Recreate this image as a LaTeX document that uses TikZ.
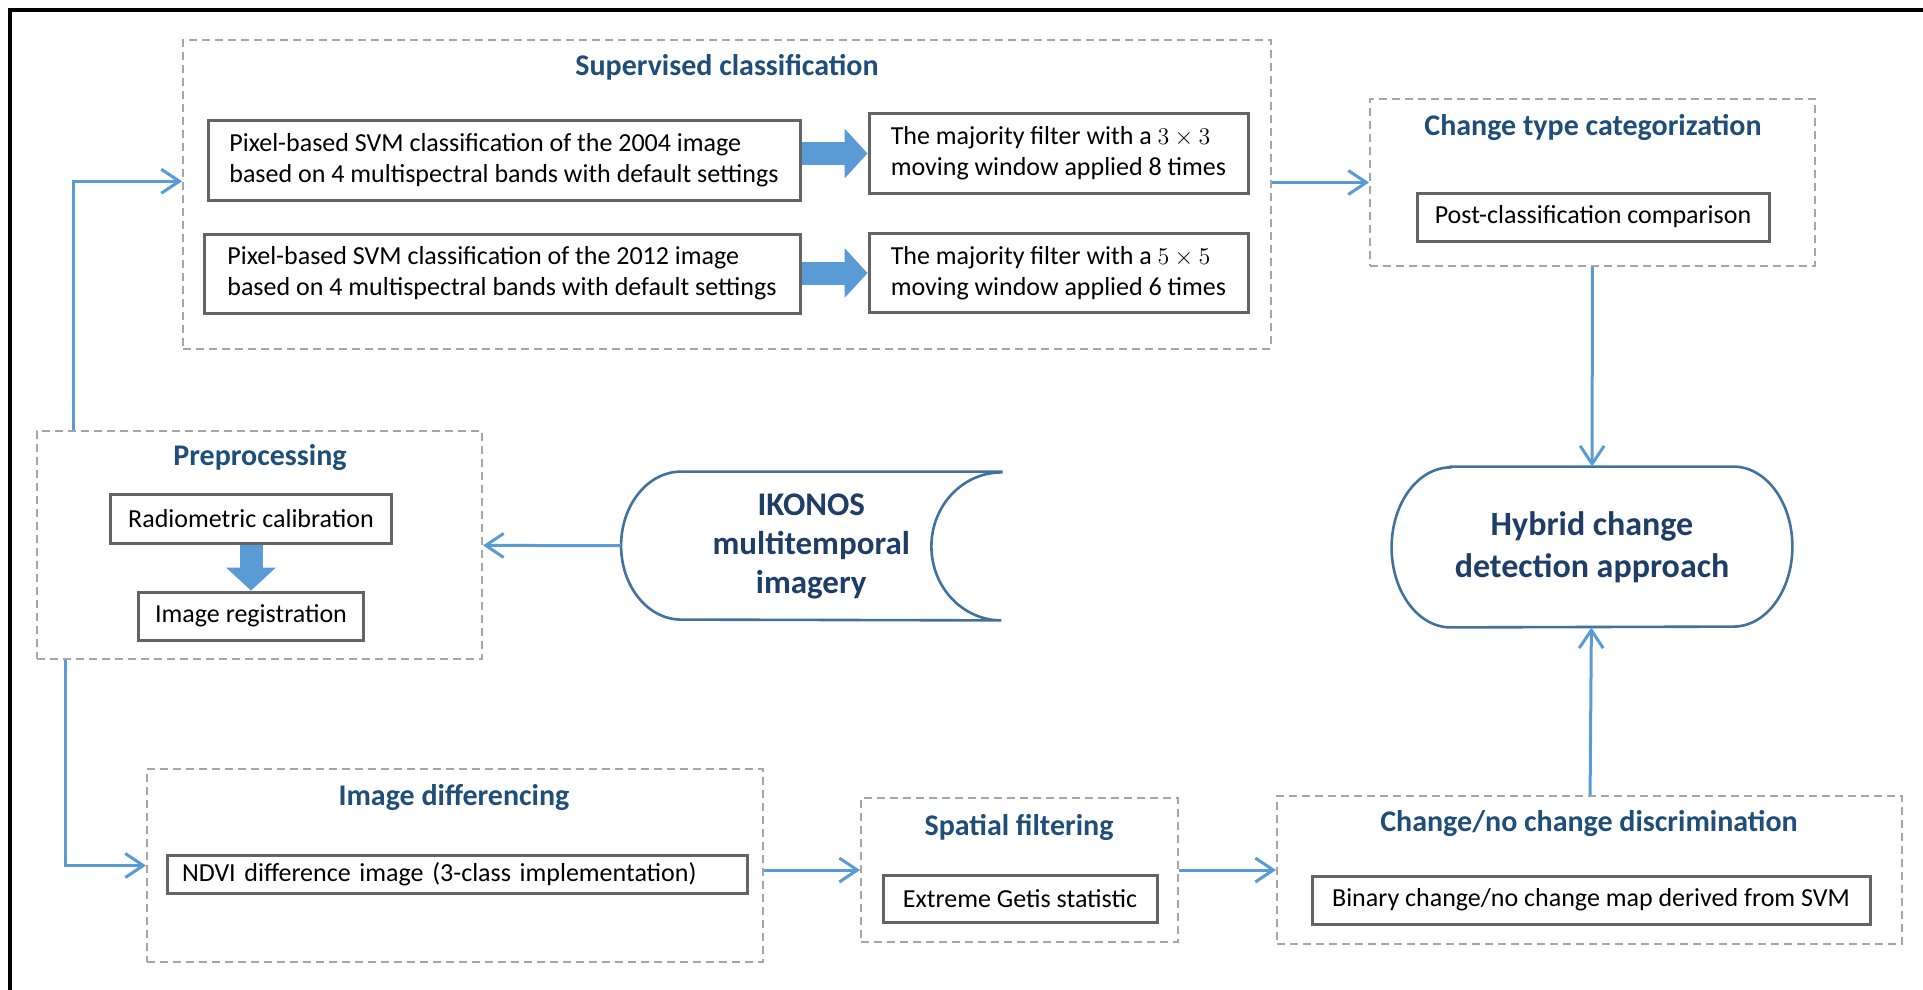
\documentclass[tikz,border=0pt]{standalone}
\usepackage{fontspec}
\setmainfont{Carlito}
\usetikzlibrary{arrows.meta}
\definecolor{titleblue}{RGB}{31,78,121}
\definecolor{hybblue}{RGB}{30,62,104}
\definecolor{flowblue}{RGB}{91,155,213}
\definecolor{edgeblue}{RGB}{65,113,156}
\definecolor{dashgray}{RGB}{166,166,166}
\definecolor{boxgray}{RGB}{100,100,100}
\begin{document}
\begin{tikzpicture}[x=0.5pt, y=-0.5pt,
  group/.style={draw=dashgray, line width=1pt, dash pattern=on 4pt off 2.5pt, inner sep=0pt},
  heading/.style={text=titleblue, font=\fontsize{15}{18}\selectfont\bfseries},
  stepbox/.style={draw=boxgray, line width=1.5pt, fill=white, inner sep=0pt, font=\fontsize{13}{15.5}\selectfont},
  flow/.style={draw=flowblue, line width=1.5pt, -{Straight Barb[length=9pt,width=12pt]}},
  fat/.style={draw=flowblue, line width=11.5pt, -{Triangle[length=11.5pt,width=25pt,line width=0pt]}},
  terminal/.style={draw=edgeblue, line width=1.3pt},
  bigtext/.style={text=hybblue, font=\fontsize{17}{21}\selectfont\bfseries, align=center}]
  \useasboundingbox (0,0) rectangle (1923,990);
  \draw[line width=2pt] (10,990) -- (10,10) -- (1923,10);

  \node[group, minimum width=543.75pt, minimum height=154.25pt] (sup) at (726.75,194.25) {};
  \node[heading] (suphead) at (727,67) {Supervised classification};
  \node[stepbox, align=left, minimum width=296pt, minimum height=39.5pt] (svm04) at (504,160.5) {Pixel-based SVM classification of the 2004 image\\based on 4 multispectral bands with default settings};
  \node[stepbox, align=left, minimum width=298pt, minimum height=39.5pt] (svm12) at (502,273.5) {Pixel-based SVM classification of the 2012 image\\based on 4 multispectral bands with default settings};
  \node[stepbox, align=left, minimum width=189.5pt, minimum height=39.5pt] (maj3) at (1058.5,153.5) {The majority filter with a $3\times3$\\moving window applied 8 times};
  \node[stepbox, align=left, minimum width=189.5pt, minimum height=39.5pt] (maj5) at (1058.5,273) {The majority filter with a $5\times5$\\moving window applied 6 times};

  \node[group, minimum width=222.5pt, minimum height=83.5pt] (chg) at (1592.5,182.5) {};
  \node[heading] (chghead) at (1593,127) {Change type categorization};
  \node[stepbox, minimum width=176pt, minimum height=24pt] (post) at (1593,217) {Post-classification comparison};

  \node[bigtext, minimum width=200pt, minimum height=80pt] (hyb) at (1592,547) {Hybrid change\\detection approach};
  \draw[terminal] ([xshift=29.5pt]hyb.north west) -- ([xshift=-29.5pt]hyb.north east)
    arc[start angle=90, end angle=-90, x radius=29.5pt, y radius=40pt]
    -- ([xshift=29.5pt]hyb.south west)
    arc[start angle=270, end angle=90, x radius=29.5pt, y radius=40pt] -- cycle;

  \node[group, minimum width=222.5pt, minimum height=114pt] (prep) at (259.5,545) {};
  \node[heading] (prephead) at (260,458) {Preprocessing};
  \node[stepbox, minimum width=140.75pt, minimum height=24.5pt] (radio) at (251,518.5) {Radiometric calibration};
  \node[stepbox, minimum width=112.5pt, minimum height=24pt] (reg) at (251,616) {Image registration};

  \node[bigtext, font=\fontsize{16.5}{19.5}\selectfont\bfseries, minimum width=189.75pt, minimum height=74pt] (ikon) at (811.25,546) {IKONOS\\multitemporal\\imagery};
  \draw[terminal] (ikon.north east) -- ([xshift=30pt]ikon.north west)
    arc[start angle=90, end angle=270, x radius=30pt, y radius=37pt]
    -- (ikon.south east)
    arc[start angle=270, end angle=90, x radius=35pt, y radius=37pt] -- cycle;

  \node[group, minimum width=308pt, minimum height=96.5pt] (diff) at (455,865.5) {};
  \node[heading] (diffhead) at (454,797) {Image differencing};
  \node[stepbox, text width=275pt, align=left, inner xsep=7.5pt, minimum height=19pt] (ndvi) at (457,874) {NDVI difference image (3-class implementation)};

  \node[group, minimum width=158.5pt, minimum height=72pt] (spat) at (1019.5,870) {};
  \node[heading] (spathead) at (1019,827) {Spatial filtering};
  \node[stepbox, minimum width=137pt, minimum height=23.5pt] (getis) at (1020,898.5) {Extreme Getis statistic};

  \node[group, minimum width=312.5pt, minimum height=74pt] (cnc) at (1589.5,870) {};
  \node[heading] (cnchead) at (1589,823) {Change/no change discrimination};
  \node[stepbox, minimum width=279pt, minimum height=24pt] (bin) at (1591,900) {Binary change/no change map derived from SVM};

  \draw[fat] (svm04.east |- maj3.west) -- (maj3.west);
  \draw[fat] (svm12.east |- maj5.west) -- (maj5.west);
  \draw[fat] (radio) -- (reg);

  \draw[flow] ([xshift=18.5pt]prep.north west) |- ([yshift=6.5pt]sup.west);
  \draw[flow] (sup.east |- chg.west) -- (chg.west);
  \draw[flow] (chg) -- (hyb);
  \draw[flow] (cnc) -- (hyb);
  \draw[flow] (ikon) -- (prep);
  \draw[flow] ([xshift=14.5pt]prep.south west) |- (diff.west);
  \draw[flow] (diff.east |- spat.west) -- (spat.west);
  \draw[flow] (spat) -- (cnc);
\end{tikzpicture}
\end{document}
